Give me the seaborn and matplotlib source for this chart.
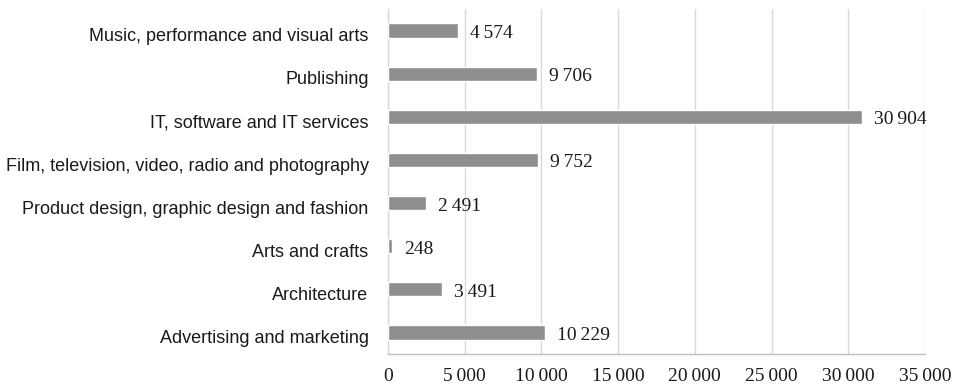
import matplotlib
matplotlib.use("Agg")
import matplotlib.pyplot as plt
import matplotlib.transforms as mtransforms
import seaborn as sns
import pandas as pd
from matplotlib.ticker import FuncFormatter

categories = [
    "Music, performance and visual arts",
    "Publishing",
    "IT, software and IT services",
    "Film, television, video, radio and photography",
    "Product design, graphic design and fashion",
    "Arts and crafts",
    "Architecture",
    "Advertising and marketing",
]
values = [4574, 9706, 30904, 9752, 2491, 248, 3491, 10229]
x_ticks = [0, 5000, 10000, 15000, 20000, 25000, 30000, 35000]

df = pd.DataFrame({"sector": categories, "count": values})

sns.set_theme(style="white")
plt.rcParams["font.family"] = ["Liberation Sans", "DejaVu Sans"]

SERIF = ["Liberation Serif", "DejaVu Serif"]


def spaced(v):
    return f"{int(v):,}".replace(",", "\u2009")


fig = plt.figure(figsize=(9.58, 3.89), dpi=100)
ax = fig.add_axes([0.405, 0.09, 0.5605, 0.8869])

sns.barplot(data=df, x="count", y="sector", orient="h", color="#8e8e8e",
            saturation=1, width=0.33, ax=ax, zorder=3)

ax.set_xlim(0, 35000)
ax.set_ylim(len(categories) - 0.5, -0.5)
ax.set_xticks(x_ticks)
ax.xaxis.set_major_formatter(FuncFormatter(lambda v, p: spaced(v)))
ax.grid(axis="x", color="#d9d9d9", linewidth=1.0, zorder=0)
ax.grid(axis="y", visible=False)
ax.set_xlabel("")
ax.set_ylabel("")

for side in ["top", "right"]:
    ax.spines[side].set_visible(False)
ax.spines["left"].set_color("#d9d9d9")
ax.spines["bottom"].set_color("#bfbfbf")
ax.spines["left"].set_linewidth(1.0)
ax.spines["bottom"].set_linewidth(1.0)

ax.tick_params(axis="y", length=0, pad=14, labelsize=13, labelcolor="#1a1a1a")
ax.tick_params(axis="x", length=0, pad=10, labelsize=14, labelcolor="#1a1a1a")
for lbl in ax.get_xticklabels():
    lbl.set_fontfamily(SERIF)

# nudge the category labels a touch below the bar centres
shift = mtransforms.ScaledTranslation(0, -3 / 72, fig.dpi_scale_trans)
for lbl in ax.get_yticklabels():
    lbl.set_transform(lbl.get_transform() + shift)

for i, v in enumerate(values):
    ax.text(v + 800, i + 0.07, spaced(v), va="center", ha="left",
            fontsize=14, family=SERIF, color="#1a1a1a")

fig.savefig("out.png", dpi=100, facecolor="white")
